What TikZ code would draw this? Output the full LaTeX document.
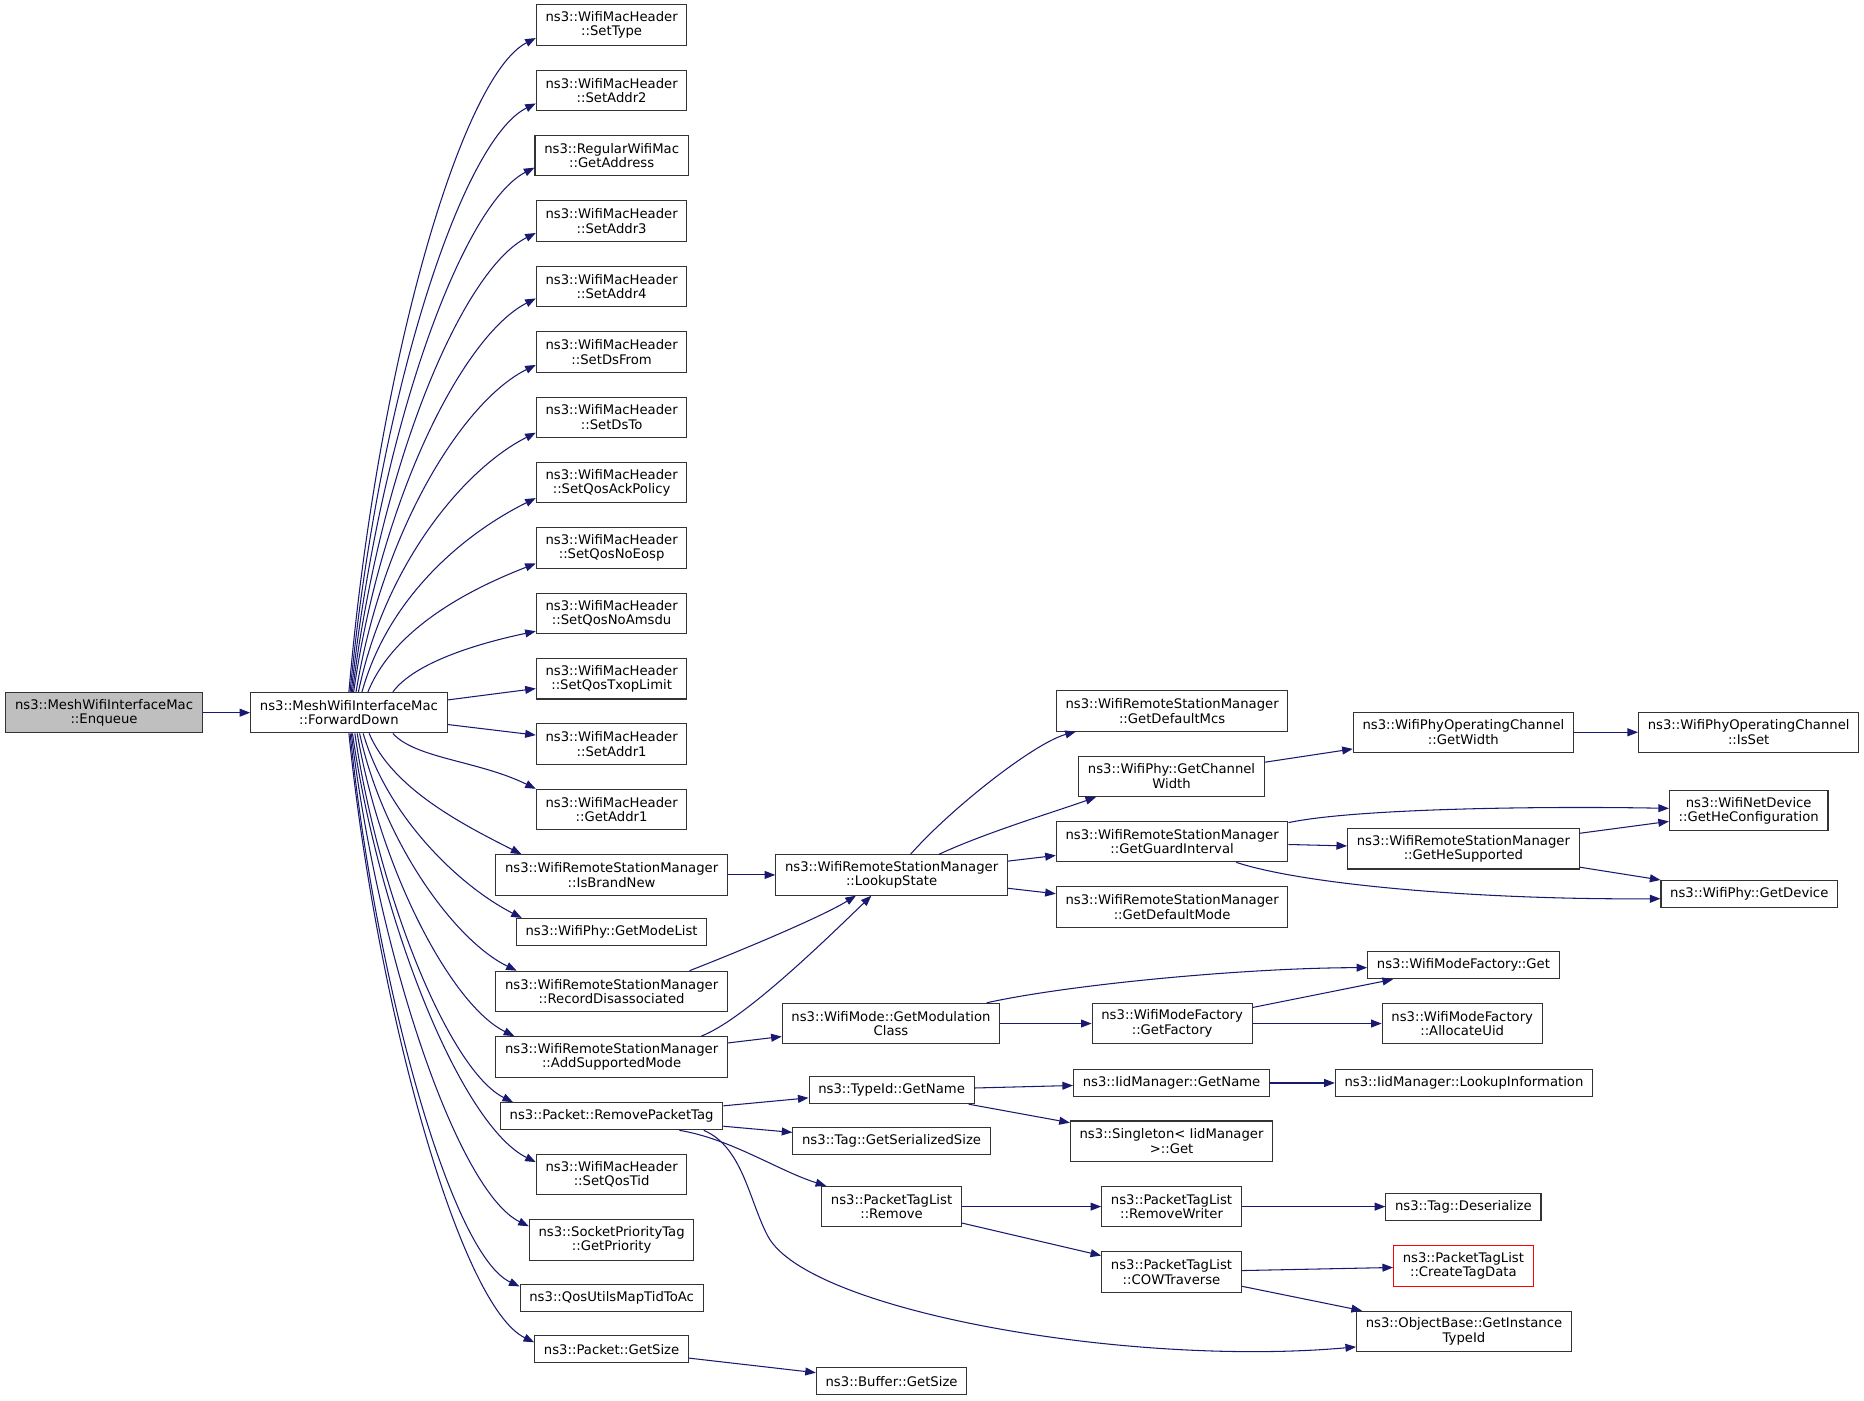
\documentclass[tikz,border=0pt]{standalone}
\usepackage{fontspec}
\setmainfont{DejaVu Sans}
\usetikzlibrary{arrows.meta,calc}
\definecolor{callblue}{HTML}{191970}
\definecolor{rootgray}{HTML}{BFBFBF}
\tikzset{
  fn/.style={
    draw=black!80,
    line width=0.8pt,
    fill=white,
    align=center,
    inner xsep=7pt,
    inner ysep=0pt,
    minimum height=30.6pt,
    font=\fontsize{10}{11}\selectfont
  },
  fnline/.style={fn, minimum height=20.5pt},
  root/.style={fn, fill=rootgray},
  missing/.style={fn, draw=red},
  call/.style={
    draw=callblue,
    line width=0.8pt,
    -{Triangle[length=8pt,width=6pt]}
  },
}

\begin{document}
\begin{tikzpicture}[x=0.9pt,y=-0.9pt]
    \useasboundingbox (0,0) rectangle (1568,1178);
    % caller and function
    \node[root] (enqueue) at (87.5,599.5) {ns3::MeshWifiInterfaceMac\\::Enqueue};
    \node[fn] (fd) at (293.5,599.5) {ns3::MeshWifiInterfaceMac\\::ForwardDown};
    % first level
    \node[fn] (settype) at (514.5,21) {ns3::WifiMacHeader\\::SetType};
    \node[fn] (setaddrtwo) at (514.5,76) {ns3::WifiMacHeader\\::SetAddr2};
    \node[fn] (getaddress) at (514.5,131) {ns3::RegularWifiMac\\::GetAddress};
    \node[fn] (setaddrthree) at (514.5,186) {ns3::WifiMacHeader\\::SetAddr3};
    \node[fn] (setaddrfour) at (514.5,241) {ns3::WifiMacHeader\\::SetAddr4};
    \node[fn] (setdsfrom) at (514.5,296) {ns3::WifiMacHeader\\::SetDsFrom};
    \node[fn] (setdsto) at (514.5,351) {ns3::WifiMacHeader\\::SetDsTo};
    \node[fn] (setqosackpolicy) at (514.5,406) {ns3::WifiMacHeader\\::SetQosAckPolicy};
    \node[fn] (setqosnoeosp) at (514.5,461) {ns3::WifiMacHeader\\::SetQosNoEosp};
    \node[fn] (setqosnoamsdu) at (514.5,516) {ns3::WifiMacHeader\\::SetQosNoAmsdu};
    \node[fn] (setqostxoplimit) at (514.5,571) {ns3::WifiMacHeader\\::SetQosTxopLimit};
    \node[fn] (setaddrone) at (514.5,626) {ns3::WifiMacHeader\\::SetAddr1};
    \node[fn] (getaddrone) at (514.5,681) {ns3::WifiMacHeader\\::GetAddr1};
    \node[fn] (isbrandnew) at (514.5,736) {ns3::WifiRemoteStationManager\\::IsBrandNew};
    \node[fnline] (getmodelist) at (514.5,784) {ns3::WifiPhy::GetModeList};
    \node[fn] (recorddisassoc) at (514.5,834) {ns3::WifiRemoteStationManager\\::RecordDisassociated};
    \node[fn] (addsupportedmode) at (514.5,889) {ns3::WifiRemoteStationManager\\::AddSupportedMode};
    \node[fnline] (removepackettag) at (514.5,939) {ns3::Packet::RemovePacketTag};
    \node[fn] (setqostid) at (514.5,988) {ns3::WifiMacHeader\\::SetQosTid};
    \node[fn] (getpriority) at (514.5,1043) {ns3::SocketPriorityTag\\::GetPriority};
    \node[fnline] (qosutils) at (514.5,1092) {ns3::QosUtilsMapTidToAc};
    \node[fnline] (packetgetsize) at (514.5,1135) {ns3::Packet::GetSize};
    % second level
    \node[fn] (lookupstate) at (750,736) {ns3::WifiRemoteStationManager\\::LookupState};
    \node[fn] (getmodulationclass) at (749.5,861) {ns3::WifiMode::GetModulation\\Class};
    \node[fnline] (typeidgetname) at (750,917) {ns3::TypeId::GetName};
    \node[fnline] (tagserializedsize) at (750,960) {ns3::Tag::GetSerializedSize};
    \node[fn] (ptlremove) at (750,1015) {ns3::PacketTagList\\::Remove};
    \node[fnline] (buffergetsize) at (750,1162) {ns3::Buffer::GetSize};
    % third level
    \node[fn] (getdefaultmcs) at (986,598) {ns3::WifiRemoteStationManager\\::GetDefaultMcs};
    \node[fn] (getchannelwidth) at (985.5,653) {ns3::WifiPhy::GetChannel\\Width};
    \node[fn] (getguardinterval) at (986,708) {ns3::WifiRemoteStationManager\\::GetGuardInterval};
    \node[fn] (getdefaultmode) at (986,763) {ns3::WifiRemoteStationManager\\::GetDefaultMode};
    \node[fn] (getfactory) at (986,861) {ns3::WifiModeFactory\\::GetFactory};
    \node[fnline] (iidgetname) at (985.5,911) {ns3::IidManager::GetName};
    \node[fn] (singletonget) at (985.5,960) {ns3::Singleton< IidManager\\>::Get};
    \node[fn] (removewriter) at (985.5,1015) {ns3::PacketTagList\\::RemoveWriter};
    \node[fn] (cowtraverse) at (985.5,1070) {ns3::PacketTagList\\::COWTraverse};
    % fourth level
    \node[fn] (getwidth) at (1231,616) {ns3::WifiPhyOperatingChannel\\::GetWidth};
    \node[fn] (gethesupported) at (1231,714) {ns3::WifiRemoteStationManager\\::GetHeSupported};
    \node[fnline] (modefactoryget) at (1231,812) {ns3::WifiModeFactory::Get};
    \node[fn] (allocateuid) at (1230,861) {ns3::WifiModeFactory\\::AllocateUid};
    \node[fnline] (lookupinformation) at (1231.5,911) {ns3::IidManager::LookupInformation};
    \node[fnline] (tagdeserialize) at (1231,1015) {ns3::Tag::Deserialize};
    \node[missing] (createtagdata) at (1231,1065) {ns3::PacketTagList\\::CreateTagData};
    \node[fn] (getinstancetypeid) at (1231.5,1120) {ns3::ObjectBase::GetInstance\\TypeId};
    % fifth level
    \node[fn] (isset) at (1471,616) {ns3::WifiPhyOperatingChannel\\::IsSet};
    \node[fn] (getheconfiguration) at (1471,682) {ns3::WifiNetDevice\\::GetHeConfiguration};
    \node[fnline] (getdevice) at (1471.5,752) {ns3::WifiPhy::GetDevice};

    \draw[call] (enqueue) -- (fd);
    % fan upwards
    \foreach \n/\s/\e/\ax/\ay/\bx/\by in {
      settype/0/11/317/308/388/64,
      setaddrtwo/1/11/318/335/388/118,
      getaddress/2/10/319/362/389/172,
      setaddrthree/3/10/320/390/389/227,
      setaddrfour/4/10/321/417/390/282,
      setdsfrom/6/11/322/445/390/337,
      setdsto/8/13/324/474/391/394,
      setqosackpolicy/11/13/327/501/392/448,
      setqosnoeosp/16/13/331/529/394/496,
      setqosnoamsdu/37/15/349/557/403/541}
      \draw[call] ($(fd.north)+(\s,0)$) .. controls (\ax,\ay) and (\bx,\by) .. ($(\n.west)+(0,\e)$);
    \draw[call] (fd) -- (setqostxoplimit);
    \draw[call] (fd) -- (setaddrone);
    % fan downwards
    \foreach \n/\s/\ex/\ey/\ax/\ay/\bx/\by in {
      getaddrone/37/0/0/349/638/403/640,
      isbrandnew/17/22/0/330/663/388/693,
      getmodelist/12/5/0/326/687/386/745,
      recorddisassoc/9/18/0/322/707/382/791,
      addsupportedmode/7/16/0/320/732/380/846,
      removepackettag/5/11/0/319/757/379/901,
      setqostid/3/0/7/320/779/389/947,
      getpriority/2/0/6/318/804/385/1002,
      qosutils/1/0/2/316/826/379/1055,
      packetgetsize/0/0/6/317/848/387/1099}
      \draw[call] ($(fd.south)+(\s,0)$) .. controls (\ax,\ay) and (\bx,\by) .. ($(\n.north west)+(\ex,\ey)$);

    % LookupState
    \draw[call] (isbrandnew) -- (lookupstate);
    \draw[call] ($(recorddisassoc.north)+(65.5,0)$) .. controls (615,803) and (690,772) .. ($(lookupstate.south)+(-30,0)$);
    \draw[call] ($(addsupportedmode.north)+(75.5,0)$) .. controls (625,858) and (690,795) .. ($(lookupstate.south)+(-17,0)$);
    \draw[call] ($(lookupstate.north)+(16,0)$) .. controls (800,680) and (870,625) .. ($(getdefaultmcs.south)+(-81,0)$);
    \draw[call] ($(lookupstate.north)+(40,0)$) .. controls (830,700) and (890,682) .. ($(getchannelwidth.south)+(-63.5,0)$);
    \draw[call] (lookupstate) -- (getguardinterval);
    \draw[call] (lookupstate) -- (getdefaultmode);
    \draw[call] (getchannelwidth) -- (getwidth);
    \draw[call] (getwidth) -- (isset);
    \draw[call] ($(getguardinterval.east)+(0,-16)$) .. controls (1140,680) and (1300,678) .. ($(getheconfiguration.west)+(0,-2)$);
    \draw[call] (getguardinterval) -- (gethesupported);
    \draw[call] ($(getguardinterval.south)+(54,0)$) .. controls (1100,745) and (1250,757) .. ($(getdevice.west)+(0,4)$);
    \draw[call] (gethesupported) -- (getheconfiguration);
    \draw[call] (gethesupported) -- (getdevice);

    % modulation class
    \draw[call] (addsupportedmode) -- (getmodulationclass);
    \draw[call] ($(getmodulationclass.north)+(80.5,0)$) .. controls (900,828) and (1050,814) .. ($(modefactoryget.west)+(0,2)$);
    \draw[call] (getmodulationclass) -- (getfactory);
    \draw[call] (getfactory) -- (modefactoryget);
    \draw[call] (getfactory) -- (allocateuid);

    % packet tags
    \draw[call] (removepackettag) -- (typeidgetname);
    \draw[call] (removepackettag) -- (tagserializedsize);
    \draw[call] ($(removepackettag.south)+(57,0)$) .. controls (615,958) and (655,985) .. ($(ptlremove.north)+(-55,0)$);
    \draw[call] ($(removepackettag.south)+(77.5,0)$) .. controls (625,965) and (630,1010) .. (646,1040)
      .. controls (680,1103) and (950,1150) .. ($(getinstancetypeid.west)+(0,13)$);
    \draw[call] (typeidgetname) -- (iidgetname);
    \draw[call] (typeidgetname) -- (singletonget);
    \draw[call] (iidgetname) -- (lookupinformation);
    \draw[call] (ptlremove) -- (removewriter);
    \draw[call] (ptlremove) -- (cowtraverse);
    \draw[call] (removewriter) -- (tagdeserialize);
    \draw[call] (cowtraverse) -- (createtagdata);
    \draw[call] (cowtraverse) -- (getinstancetypeid);
    \draw[call] (packetgetsize) -- (buffergetsize);
\end{tikzpicture}
\end{document}
